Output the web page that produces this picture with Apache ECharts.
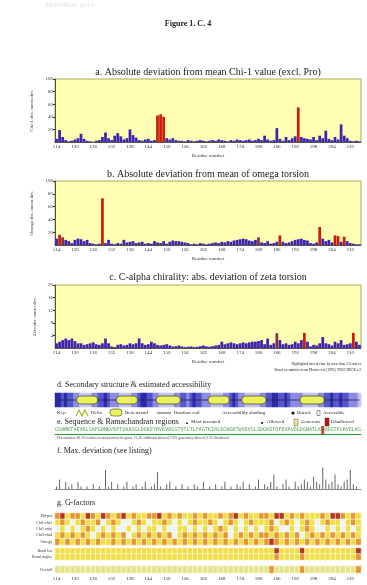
<!DOCTYPE html>
<html>
<head>
<meta charset="utf-8">
<script src="https://cdn.jsdelivr.net/npm/echarts@6/dist/echarts.min.js"></script>
<style>
html, body { margin: 0; padding: 0; background: #fff; }
#chart { width: 367px; height: 585px; }
</style>
</head>
<body>
<div id="chart"></div>
<script>
// residue numbering of the first bar
const firstResidue = 114;

// a. chi-1 abs. deviation
const chi1Dev = [5, 19, 8, 3, 1, 2, 4, 6, 13, 5, 2, 1, 0, 2, 3, 8, 15, 6, 3, 10,
    14, 9, 4, 6, 20, 11, 7, 3, 2, 4, 5, 2, 3, 42, 44, 40, 6, 4, 6, 3,
    2, 2, 1, 3, 2, 1, 2, 3, 2, 1, 2, 3, 2, 4, 3, 2, 1, 3, 2, 4,
    3, 2, 3, 4, 2, 3, 5, 3, 10, 4, 2, 3, 22, 5, 2, 8, 3, 6, 9, 55,
    8, 6, 5, 4, 8, 3, 10, 6, 18, 5, 3, 8, 4, 28, 10, 6, 2, 1, 2, 1];

// b. omega abs. deviation
const omegaDev = [10, 16, 12, 8, 6, 3, 8, 10, 9, 6, 8, 3, 2, 1, 2, 73, 3, 8, 2, 1,
    3, 2, 8, 4, 5, 6, 3, 4, 5, 2, 3, 2, 6, 4, 3, 6, 2, 5, 7, 6,
    6, 5, 4, 3, 1, 2, 1, 3, 2, 1, 2, 3, 4, 3, 5, 4, 6, 5, 7, 8,
    9, 10, 9, 7, 6, 8, 12, 4, 3, 6, 2, 3, 5, 15, 5, 3, 4, 6, 8, 9,
    10, 8, 7, 3, 2, 4, 28, 10, 6, 8, 4, 15, 14, 5, 13, 6, 3, 2, 1, 1];

// c. zeta abs. deviation
const zetaDev = [1.5, 2, 2.5, 3, 2.5, 3, 2.2, 1.5, 1.5, 1, 1.2, 1.5, 1.8, 1.2, 1, 1.5, 3, 1.5, 0.5, 0.3,
    1, 1.2, 0.8, 1, 1.5, 1.2, 1.5, 3, 1.5, 1, 1.2, 2, 1.5, 1, 0.8, 1, 1.2, 0.8, 0.5, 0.6,
    0.8, 0.5, 0.3, 0.4, 0.5, 0.3, 0.4, 0.6, 0.8, 0.5, 0.4, 0.6, 0.8, 1, 2, 1.2, 1.5, 1.8, 1.5, 1.2,
    1.5, 1.8, 1.5, 1.8, 2, 2, 2.2, 2.5, 1.2, 3, 1, 1.5, 4.7, 2.5, 1.2, 1.5, 1, 1.2, 2, 1.5,
    2.5, 4.8, 2, 0.5, 1, 0.8, 1.5, 3.5, 1.5, 1.2, 0.8, 2, 1.5, 2.5, 1, 1.2, 1.5, 4.8, 2, 1];

// f. max deviation
const maxDev = [1, 4, 0, 3, 1, 2, 0, 3, 1, 0, 1, 0, 2, 0, 1, 0, 8, 1, 3, 0,
    2, 0, 1, 3, 0, 1, 2, 0, 1, 3, 0, 1, 2, 7, 1, 0, 2, 3, 0, 1,
    0, 2, 0, 1, 0, 2, 1, 0, 3, 0, 1, 0, 2, 0, 1, 3, 0, 1, 0, 2,
    1, 3, 0, 2, 0, 1, 4, 0, 2, 1, 3, 6, 1, 0, 2, 4, 1, 0, 3, 1,
    2, 4, 3, 1, 5, 3, 2, 9, 4, 2, 3, 6, 2, 1, 3, 4, 8, 2, 1, 0];

// d. accessibility (0 accessible .. 3 buried) and strands
const accessibility = [3, 3, 2, 3, 2, 2, 1, 1, 0, 0, 0, 0, 1, 1, 2, 2, 3, 2, 1, 1,
    1, 0, 0, 0, 0, 1, 1, 2, 3, 3, 2, 2, 1, 1, 0, 0, 0, 0, 0, 1,
    1, 2, 2, 1, 2, 3, 2, 2, 1, 1, 1, 0, 0, 0, 0, 1, 1, 2, 3, 2,
    1, 1, 0, 0, 0, 0, 0, 1, 1, 2, 2, 3, 3, 2, 2, 3, 2, 1, 1, 1,
    1, 0, 0, 0, 0, 0, 1, 1, 2, 2, 3, 2, 2, 3, 2, 2, 1, 1, 1, 0];
const strandStart = [7, 20, 33, 50, 61, 80];
const strandEnd = [13, 26, 40, 56, 68, 87];

// e. sequence and disallowed residues
const sequence = 'GSHMKTVEVRLSAPGDNKVEFTVKASGLDGKEYRVEVDGSTQTLTLPAGTKIRLEGNGKTWVEVSLSDGKETQFEVRVDGDGNATLKAVEGTPLRVELKG';
const disallowed = [87];

// g. G-factors, one digit per block (0 pale .. 3 red, 4 white)
const gRowsDihedral = ['Phi-psi', 'Chi1-chi2', 'Chi1 only', 'Chi3-chi4', 'Omega'];
const gDihedral = [
    '2312213213 2123121122 3121211212 1121231211 2213312121 1121332121',
    '1214121124 1214412141 1214141211 2141214121 1124121412 1412114121',
    '4141412141 4144141411 4144114141 4121414141 4121441412 1441414141',
    '1212121412 1212412121 2124121212 1212412121 2212121241 2121212121',
    '2121212121 1212121212 1212121212 1212121212 1232121212 1212121212'
];
const gRowsCovalent = ['Bond len', 'Bond angles'];
const gCovalent = [
    '1111111111 1111111111 1111111111 1111111111 1113111131 1111111113',
    '1111111111 1111111111 1111111111 1111111111 1112111121 1111111112'
];
const gRowsOverall = ['Overall'];
const gOverall = [
    '0000000000 0000000000 0000000000 0000000000 0020000020 0000000002'
];

const residues = chi1Dev.map((_, i) => String(firstResidue + i));
const serif = 'Liberation Serif';

function toCells(rows) {
    const cells = [];
    rows.forEach((row, r) => {
        row.replace(/ /g, '').split('').forEach((d, c) => cells.push([c, r, +d]));
    });
    return cells;
}
const gCols = gDihedral[0].replace(/ /g, '').split('').map((_, i) => String(i));

function barColor(mid, high) {
    return p => p.value >= high ? '#cc1c0c' : (p.value >= mid ? '#80304c' : '#3f24b0');
}

function txt(x, y, text, size, extra) {
    return {
        type: 'text', x: x, y: y, silent: true,
        style: Object.assign({
            text: text, fontSize: size, fontFamily: serif, fill: '#222',
            textAlign: 'left', textVerticalAlign: 'middle'
        }, extra || {})
    };
}

const plotLeft = 55, plotWidth = 306;
const bandGrid = (top, height) => ({
    left: plotLeft, top: top, width: plotWidth, height: height,
    show: true, backgroundColor: '#ffffb4', borderColor: '#a8a860', borderWidth: 1
});
const plainGrid = (top, height) => ({ left: plotLeft, top: top, width: plotWidth, height: height });

const resAxis = (gridIndex) => ({
    type: 'category', gridIndex: gridIndex, data: residues,
    axisLine: { lineStyle: { color: '#333', width: 0.8 } },
    axisTick: { interval: 5, length: 2, lineStyle: { color: '#333' } },
    axisLabel: { interval: 5, fontSize: 5, margin: 2, color: '#333', fontFamily: serif },
    name: 'Residue number', nameLocation: 'middle', nameGap: 11,
    nameTextStyle: { fontSize: 5, color: '#333', fontFamily: serif }
});
const devAxis = (gridIndex, max, step, name) => ({
    type: 'value', gridIndex: gridIndex, min: 0, max: max, interval: step,
    axisLine: { show: true, lineStyle: { color: '#333', width: 0.8 } },
    axisTick: { show: true, length: 2 },
    axisLabel: { fontSize: 5, margin: 2, color: '#333', showMinLabel: false, fontFamily: serif },
    splitLine: { show: false },
    name: name, nameLocation: 'middle', nameRotate: 90, nameGap: 16,
    nameTextStyle: { fontSize: 5, color: '#333', fontFamily: serif }
});
const hiddenCat = (gridIndex, data, extra) => Object.assign({
    type: 'category', gridIndex: gridIndex, data: data, show: false
}, extra || {});
const rowAxis = (gridIndex, rows) => ({
    type: 'category', gridIndex: gridIndex, data: rows, inverse: true,
    axisLine: { show: false }, axisTick: { show: false },
    axisLabel: { interval: 0, fontSize: 4, margin: 3, color: '#333', fontFamily: serif }
});

const chart = echarts.init(document.getElementById('chart'));

const option = {
    animation: false,
    backgroundColor: '#fff',
    grid: [
        bandGrid(79, 63),
        bandGrid(181, 64),
        bandGrid(285, 63),
        plainGrid(393, 14),
        plainGrid(426, 8),
        plainGrid(465, 24),
        plainGrid(513, 32),
        plainGrid(548, 12),
        plainGrid(566, 7)
    ],
    xAxis: [
        resAxis(0),
        resAxis(1),
        resAxis(2),
        hiddenCat(3, residues),
        Object.assign(hiddenCat(4, residues), {
            show: true, axisLine: { lineStyle: { color: '#2a9a2a', width: 1 } },
            axisTick: { show: false }, axisLabel: { show: false }
        }),
        {
            type: 'category', gridIndex: 5, data: residues,
            axisLine: { lineStyle: { color: '#555', width: 0.7 } },
            axisTick: { interval: 0, length: 2, lineStyle: { color: '#777', width: 0.5 } },
            axisLabel: { show: false }
        },
        hiddenCat(6, gCols),
        hiddenCat(7, gCols),
        hiddenCat(8, gCols, { position: 'top' }),
        {
            type: 'category', gridIndex: 8, data: residues, position: 'bottom',
            axisLine: { show: false }, axisTick: { show: false },
            axisLabel: { interval: 5, fontSize: 5, margin: 3, color: '#333', fontFamily: serif }
        }
    ],
    yAxis: [
        devAxis(0, 100, 20, 'Chi-1 abs. mean dev.'),
        devAxis(1, 100, 20, 'Omega abs. mean dev.'),
        devAxis(2, 20, 4, 'Zeta abs. mean dev.'),
        hiddenCat(3, ['acc']),
        hiddenCat(4, ['seq']),
        { type: 'value', gridIndex: 5, min: 0, max: 10, show: false },
        rowAxis(6, gRowsDihedral),
        rowAxis(7, gRowsCovalent),
        rowAxis(8, gRowsOverall)
    ],
    visualMap: [
        {
            type: 'piecewise', show: false, seriesIndex: 3, dimension: 2,
            pieces: [
                { value: 0, color: '#c4c4f2' },
                { value: 1, color: '#8c8ce4' },
                { value: 2, color: '#5454cc' },
                { value: 3, color: '#2a2aa8' }
            ]
        },
        {
            type: 'piecewise', show: false, seriesIndex: [9, 10, 11], dimension: 2,
            pieces: [
                { value: 0, color: '#e4e48a' },
                { value: 1, color: '#f0de46' },
                { value: 2, color: '#e6962e' },
                { value: 3, color: '#b5361e' },
                { value: 4, color: '#eef4f2' }
            ]
        }
    ],
    series: [
        {
            type: 'bar', xAxisIndex: 0, yAxisIndex: 0, data: chi1Dev, barCategoryGap: '10%',
            itemStyle: { color: barColor(30, 38) }
        },
        {
            type: 'bar', xAxisIndex: 1, yAxisIndex: 1, data: omegaDev, barCategoryGap: '10%',
            itemStyle: { color: barColor(11, 13) }
        },
        {
            type: 'bar', xAxisIndex: 2, yAxisIndex: 2, data: zetaDev, barCategoryGap: '10%',
            itemStyle: { color: barColor(4, 4.75) }
        },
        {
            type: 'heatmap', xAxisIndex: 3, yAxisIndex: 3,
            data: accessibility.map((v, i) => [i, 0, v])
        },
        {
            type: 'custom', xAxisIndex: 3, yAxisIndex: 3, z: 3,
            data: [[0, residues.length - 1]],
            renderItem: (params, api) => {
                const a = api.coord([api.value(0), 0]);
                const b = api.coord([api.value(1), 0]);
                return {
                    type: 'line', shape: { x1: a[0], y1: a[1], x2: b[0], y2: b[1] },
                    style: { stroke: '#202040', lineWidth: 0.8 }
                };
            }
        },
        {
            type: 'custom', xAxisIndex: 3, yAxisIndex: 3, z: 4,
            data: strandStart.map((s, i) => [s, strandEnd[i]]),
            renderItem: (params, api) => {
                const a = api.coord([api.value(0), 0]);
                const b = api.coord([api.value(1), 0]);
                const w = api.size([1, 1]);
                return {
                    type: 'rect',
                    shape: { x: a[0] - w[0] / 2, y: a[1] - 4, width: b[0] - a[0] + w[0], height: 8, r: 4 },
                    style: { fill: '#eef25a', stroke: '#3a3a20', lineWidth: 0.7 }
                };
            }
        },
        {
            type: 'scatter', xAxisIndex: 4, yAxisIndex: 4, symbolSize: 0,
            data: sequence.split('').map((_, i) => [i, 0]),
            label: {
                show: true, position: 'inside', formatter: p => sequence[p.dataIndex],
                fontSize: 5, color: '#1a8a1a', fontFamily: 'DejaVu Sans Mono'
            }
        },
        {
            type: 'scatter', xAxisIndex: 4, yAxisIndex: 4, symbol: 'rect', symbolSize: [3, 8],
            data: disallowed.map(i => [i, 0]), itemStyle: { color: '#d01010' }
        },
        {
            type: 'bar', xAxisIndex: 5, yAxisIndex: 5, data: maxDev, barWidth: 1,
            itemStyle: { color: '#666' }
        },
        {
            type: 'heatmap', xAxisIndex: 6, yAxisIndex: 6, data: toCells(gDihedral),
            itemStyle: { borderColor: '#fff', borderWidth: 0.6 }
        },
        {
            type: 'heatmap', xAxisIndex: 7, yAxisIndex: 7, data: toCells(gCovalent),
            itemStyle: { borderColor: '#fff', borderWidth: 0.6 }
        },
        {
            type: 'heatmap', xAxisIndex: 8, yAxisIndex: 8, data: toCells(gOverall),
            itemStyle: { borderColor: '#fff', borderWidth: 0.6 }
        }
    ],
    graphic: [
        txt(45, 5, 'PROCHECK  plot 5', 6, { fill: '#dedede' }),
        txt(188, 24, 'Figure 1. C. 4', 8, { textAlign: 'center', fontWeight: 'bold' }),
        txt(208, 72, 'a. Absolute deviation from mean Chi-1 value (excl. Pro)', 10, { textAlign: 'center' }),
        txt(208, 174, 'b. Absolute deviation from mean of omega torsion', 10, { textAlign: 'center' }),
        txt(208, 277, 'c. C-alpha chirality: abs. deviation of zeta torsion', 10, { textAlign: 'center' }),
        txt(361, 364, 'Highlighted bars deviate by more than 2.0 st.devs', 3.5, { textAlign: 'right' }),
        txt(361, 370, 'Based on statistics from Morris et al (1992), PROCHECK v.3', 3.5, { textAlign: 'right' }),
        txt(57, 385, 'd. Secondary structure & estimated accessibility', 8),
        txt(57, 413, 'Key:', 5),
        {
            type: 'polyline', silent: true,
            shape: { points: [[76, 416], [79, 410], [82, 416], [85, 410], [88, 416]] },
            style: { stroke: '#9ab820', lineWidth: 1.2, fill: null }
        },
        txt(91, 413, 'Helix', 5),
        {
            type: 'rect', silent: true, shape: { x: 110, y: 409, width: 12, height: 7, r: 3 },
            style: { fill: '#eef25a', stroke: '#3a3a20', lineWidth: 0.6 }
        },
        txt(125, 413, 'Beta strand', 5),
        {
            type: 'line', silent: true, shape: { x1: 157, y1: 413, x2: 171, y2: 413 },
            style: { stroke: '#202040', lineWidth: 0.8 }
        },
        txt(174, 413, 'Random coil', 5),
        txt(222, 413, 'Accessibility shading', 5),
        { type: 'circle', silent: true, shape: { cx: 293, cy: 413, r: 1.6 }, style: { fill: '#111' } },
        txt(297, 413, 'Buried', 5),
        {
            type: 'rect', silent: true, shape: { x: 317, y: 410.5, width: 3, height: 5 },
            style: { fill: '#fff', stroke: '#333', lineWidth: 0.5 }
        },
        txt(323, 413, 'Accessible', 5),
        txt(57, 422, 'e. Sequence & Ramachandran regions', 8),
        txt(185, 423, '\u25B2', 4),
        txt(191, 422, 'Most favoured', 5),
        txt(261, 423, '\u25A0', 4),
        txt(267, 422, 'Allowed', 5),
        {
            type: 'rect', silent: true, shape: { x: 294, y: 419, width: 4, height: 7 },
            style: { fill: '#f0e890', stroke: '#555', lineWidth: 0.5 }
        },
        txt(301, 422, 'Generous', 5),
        {
            type: 'rect', silent: true, shape: { x: 325, y: 418, width: 4, height: 8 },
            style: { fill: '#c81010', stroke: '#333', lineWidth: 0.5 }
        },
        txt(331, 422, 'Disallowed', 5),
        txt(57, 438, 'Plot statistics: 86.5% residues in most favoured regions, 12.4% additional allowed, 0.6% generously allowed, 0.5% disallowed', 3.4, { fill: '#444' }),
        txt(57, 451, 'f. Max. deviation (see listing)', 8),
        txt(57, 503, 'g. G-factors', 8)
    ]
};

chart.setOption(option);
</script>
</body>
</html>
